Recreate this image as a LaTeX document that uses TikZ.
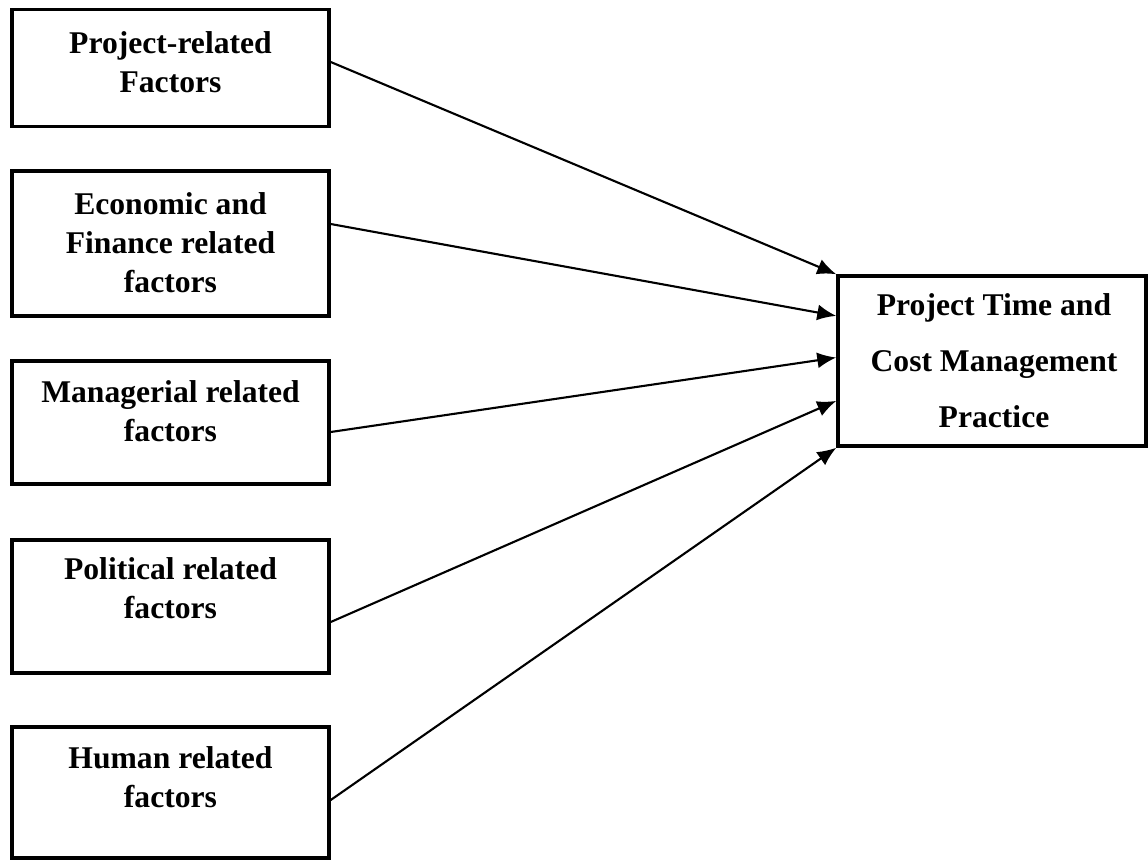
\documentclass[tikz,border=0pt]{standalone}
\usepackage{fontspec}
\setmainfont{Liberation Serif}
\usetikzlibrary{arrows.meta,calc}

\tikzset{
    factor/.style={draw, line width=2pt, minimum width=6.34cm, inner sep=0pt},
    factortext/.style={font=\fontsize{18}{22.2}\selectfont\bfseries, align=center},
    link/.style={-{Latex[length=3.8mm,width=3.2mm]}, line width=1.2pt}
}

\begin{document}
\begin{tikzpicture}[x=0.02cm, y=-0.02cm]
    % Giới hạn vùng hiển thị
    \useasboundingbox (0,0) rectangle (1148,861);

    % ==================== CÁC KHỐI YẾU TỐ (BÊN TRÁI) ====================
    % 1. Khung
    \node[factor, minimum height=2.34cm] (projbox) at (170.5,68) {};
    \node[factor, minimum height=2.90cm] (econbox) at (170.5,243.5) {};
    \node[factor, minimum height=2.46cm] (mgmtbox) at (170.5,422.5) {};
    \node[factor, minimum height=2.66cm] (polibox) at (170.5,606.5) {};
    \node[factor, minimum height=2.62cm] (humbox) at (170.5,792.5) {};

    % 2. Chữ trong khung
    \node[factortext] (projtxt) at (170.5,62) {Project-related\\Factors};
    \node[factortext] (econtxt) at (170.5,243) {Economic and\\Finance related\\factors};
    \node[factortext] (mgmttxt) at (170.5,411) {Managerial related\\factors};
    \node[factortext] (politxt) at (170.5,588) {Political related\\factors};
    \node[factortext] (humtxt) at (170.5,777) {Human related\\factors};

    % ==================== KHỐI KẾT QUẢ (BÊN PHẢI) ====================
    \node[draw, line width=2pt, minimum width=6.16cm, minimum height=3.4cm, inner sep=0pt] (practbox) at (992,361) {};
    \node[font=\fontsize{18}{31.9}\selectfont\bfseries, align=center] (practtxt) at (994,361)
        {Project Time and\\Cost Management\\Practice};

    % ==================== CÁC MŨI TÊN ====================
    \draw[link] ([yshift=0.12cm]projbox.east) -- (practbox.north west);
    \draw[link] ([yshift=0.39cm]econbox.east) -- ($(practbox.north west)!0.24!(practbox.south west)$);
    \draw[link] ([yshift=-0.19cm]mgmtbox.east) -- ($(practbox.north west)!0.48!(practbox.south west)$);
    \draw[link] ([yshift=-0.31cm]polibox.east) -- ($(practbox.north west)!0.73!(practbox.south west)$);
    \draw[link] ([yshift=-0.15cm]humbox.east) -- (practbox.south west);

\end{tikzpicture}
\end{document}
